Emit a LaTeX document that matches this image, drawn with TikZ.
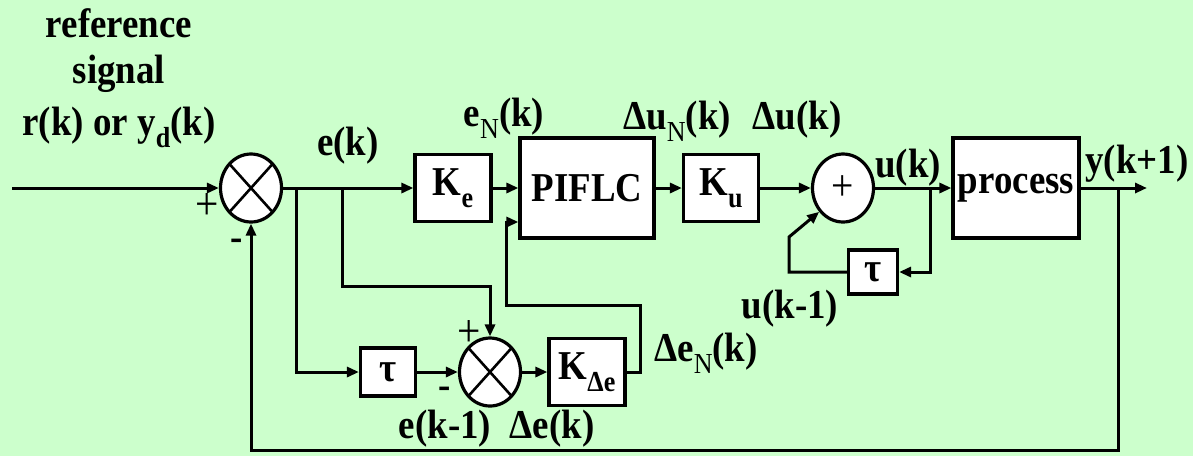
\documentclass[tikz,border=0pt]{standalone}
\usepackage{fontspec}
\setmainfont{Liberation Serif}[FakeStretch=0.9]
\usetikzlibrary{arrows.meta,calc,positioning,shapes.geometric}
\definecolor{LoopInk}{HTML}{000000}
\definecolor{LoopPaper}{HTML}{CCFFCC}
\definecolor{LoopBox}{HTML}{FFFFFF}
\newcommand{\lowsub}[1]{\raisebox{-6pt}{\fontsize{14.5}{14.5}\selectfont #1}}
\tikzset{
  every node/.style={font=\rmfamily\fontsize{20.5}{24}\selectfont\bfseries, text=LoopInk, inner sep=0pt},
  block/.style={draw=LoopInk, line width=1.6pt, fill=LoopBox},
  junction/.style={ellipse, draw=LoopInk, line width=1.6pt, fill=LoopBox, minimum width=30.5pt, minimum height=34pt},
  crossed/.style={junction, path picture={
    \draw[line width=1.3pt] (path picture bounding box.south west) -- (path picture bounding box.north east);
    \draw[line width=1.3pt] (path picture bounding box.north west) -- (path picture bounding box.south east);}},
  polarity/.style={font=\rmfamily\fontsize{23}{23}\selectfont},
  signal/.style={-{Triangle[length=6pt,width=5pt]}, draw=LoopInk, line width=1.5pt},
}

\begin{document}
\begin{tikzpicture}[x=0.5pt, y=-0.5pt]
  \fill[LoopPaper] (0,0) rectangle (1193,456);
  \useasboundingbox (0,0) rectangle (1193,456);
  % Forward path blocks
  \node[crossed] (sum1) at (251,188) {};
  \node[block, minimum width=38pt, minimum height=33.5pt] (Ke) at (453,188) {K\lowsub{e}};
  \node[block, minimum width=67pt, minimum height=50pt] (PIFLC) at (587,188) {PIFLC};
  \node[block, minimum width=37.5pt, minimum height=33.5pt] (Ku) at (721,188) {K\lowsub{u}};
  \node[junction, font=\rmfamily\fontsize{22}{22}\selectfont] (sum3) at (843,188) {+};
  \node[block, minimum width=63pt, minimum height=50pt] (process) at (1016,188) {process};
  % Delay and change-of-error blocks
  \node[block, minimum width=24.5pt, minimum height=22pt] (tauU) at (873,272) {τ};
  \node[block, minimum width=27.5pt, minimum height=24pt] (tauE) at (388,372) {τ};
  \node[crossed] (sum2) at (490,372) {};
  \node[block, minimum width=38pt, minimum height=33.5pt] (KDe) at (587,372) {K\lowsub{Δe}};
  % Corner points
  \coordinate (src) at (12,188);
  \coordinate (outy) at (1147,188);
  \coordinate (tapA) at (296,188);
  \coordinate (tapB) at (342,188);
  \coordinate (tapU) at (930,188);
  \coordinate (tapY) at (1118,188);
  \coordinate (hookA) at (640,305);
  \coordinate (hookB) at (506,222);
  \coordinate (hookU) at (789,237);
  \coordinate (retY) at (251,450);
  % Connectors
  \draw[signal] (src) -- (sum1);
  \draw[signal] (sum1) -- (Ke);
  \draw[signal] (Ke) -- (PIFLC);
  \draw[signal] (PIFLC) -- (Ku);
  \draw[signal] (Ku) -- (sum3);
  \draw[signal] (sum3) -- (process);
  \draw[signal] (process) -- (outy);
  \draw[signal] (tapA) |- (tauE);
  \draw[signal] (tauE) -- (sum2);
  \draw[signal] (tapB) |- ([yshift=25pt]sum2.north) -- (sum2.north);
  \draw[signal] (sum2) -- (KDe);
  \draw[signal] (KDe.east) -| (hookA) -| (hookB) -- (hookB -| PIFLC.west);
  \draw[signal] (tapU) |- (tauU);
  \draw[signal] (tauU) -| (hookU) -- (sum3.225);
  \draw[signal] (tapY) |- (retY) -- (sum1);
  % Signs at the summing points
  \node[polarity] (p1) at (207,206) {+};
  \node (m1) at (237,245) {-};
  \node[polarity] (p2) at (469,333) {+};
  \node (m2) at (445,393) {-};
  % Signal names
  \node[anchor=base] (ref1) at (119,37) {reference};
  \node[anchor=base] (ref2) at (119,83) {signal};
  \node[anchor=base] (ref3) at (119,135) {r(k) or y\lowsub{d}(k)};
  \node[anchor=base] (ek) at (348,155) {e(k)};
  \node[anchor=base] (eN) at (504,126) {e\lowsub{\mdseries N}(k)};
  \node[anchor=base] (duN) at (677,129) {Δu\lowsub{\mdseries N}(k)};
  \node[anchor=base] (du) at (797,129) {Δu(k)};
  \node[anchor=base] (uk) at (908,177) {u(k)};
  \node[anchor=base] (yk) at (1137,173) {y(k+1)};
  \node[anchor=base] (uk1) at (790,318) {u(k-1)};
  \node[anchor=base] (deN) at (706,361) {Δe\lowsub{\mdseries N}(k)};
  \node[anchor=base] (ek1) at (445,438) {e(k-1)};
  \node[anchor=base] (de) at (552,438) {Δe(k)};
\end{tikzpicture}
\end{document}
